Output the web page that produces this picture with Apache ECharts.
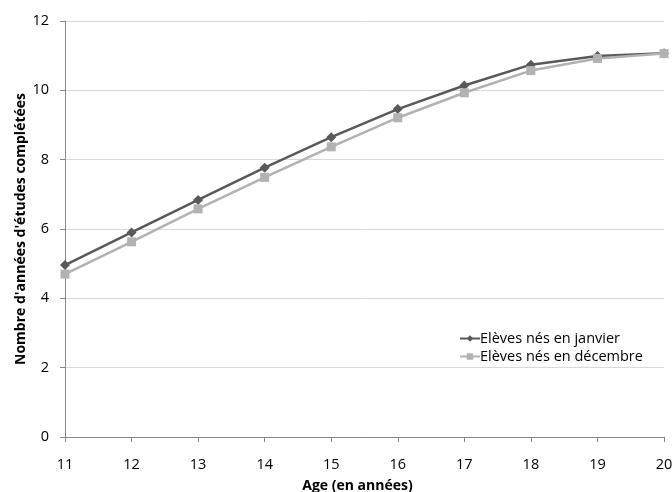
<!DOCTYPE html>
<html><head><meta charset="utf-8">
<script src="https://cdn.jsdelivr.net/npm/echarts@6/dist/echarts.min.js"></script>
<style>html,body{margin:0;padding:0;background:#fff}#c{width:672px;height:492px}</style>
</head><body><div id="c"></div>
<script>
const ages = ['11','12','13','14','15','16','17','18','19','20'];
const janvier = [4.96, 5.90, 6.84, 7.77, 8.65, 9.46, 10.14, 10.74, 10.99, 11.07];
const decembre = [4.70, 5.63, 6.58, 7.49, 8.37, 9.21, 9.93, 10.57, 10.92, 11.06];
const yTicks = [0, 2, 4, 6, 8, 10, 12];
const FONT = '"Open Sans", "Liberation Sans", sans-serif';
const chart = echarts.init(document.getElementById('c'));
chart.setOption({
  animation: false,
  textStyle: { fontFamily: FONT },
  grid: { left: 65, right: 8, top: 21, bottom: 55, containLabel: false, outerBoundsMode: 'none' },
  legend: {
    orient: 'vertical', left: 459, top: 331, itemGap: 3, padding: 0,
    itemWidth: 20, itemHeight: 8,
    textStyle: { fontFamily: FONT, fontSize: 14.5, color: '#000', padding: [0,0,0,-5] },
    data: ['Elèves nés en janvier', 'Elèves nés en décembre']
  },
  xAxis: {
    type: 'category', data: ages, boundaryGap: false,
    name: 'Age (en années)', nameLocation: 'middle', nameGap: 42, nameMoveOverlap: false,
    nameTextStyle: { fontFamily: FONT, fontSize: 14, fontWeight: 'bold', color: '#000', padding: [0, 14, 0, 0] },
    axisLine: { lineStyle: { color: '#868686', width: 1 } },
    axisTick: { show: true, length: 5, lineStyle: { color: '#868686' } },
    axisLabel: { fontFamily: FONT, fontSize: 14.5, color: '#000', margin: 20 },
    splitLine: { show: false }
  },
  yAxis: {
    type: 'value', min: yTicks[0], max: yTicks[yTicks.length-1], interval: 2,
    name: "Nombre d'années d'études complétées", nameLocation: 'middle', nameGap: 37, nameMoveOverlap: false,
    nameTextStyle: { fontFamily: FONT, fontSize: 14, fontWeight: 'bold', color: '#000' },
    axisLine: { show: true, lineStyle: { color: '#868686', width: 1 } },
    axisTick: { show: true, length: 5, lineStyle: { color: '#868686' } },
    axisLabel: { fontFamily: FONT, fontSize: 14.5, color: '#000', margin: 16 },
    splitLine: { lineStyle: { color: '#d9d9d9', width: 1 } }
  },
  series: [
    { name: 'Elèves nés en décembre', type: 'line', data: decembre,
      symbol: 'rect', symbolSize: 9, z: 2,
      lineStyle: { color: '#b2b2b2', width: 2.5 },
      itemStyle: { color: '#b2b2b2' } },
    { name: 'Elèves nés en janvier', type: 'line', data: janvier,
      symbol: 'diamond', symbolSize: 10, z: 1,
      lineStyle: { color: '#595959', width: 2.5 },
      itemStyle: { color: '#595959' } }
  ]
});
</script></body></html>
